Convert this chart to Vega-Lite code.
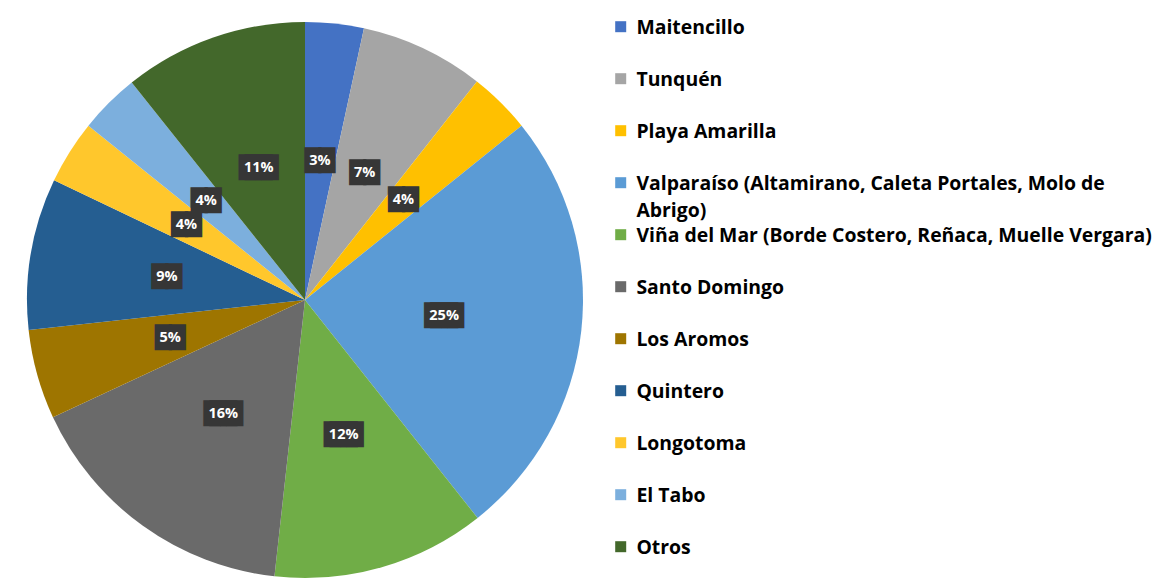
{
  "$schema": "https://vega.github.io/schema/vega-lite/v6.json",
  "autosize": "none",
  "width": 556,
  "height": 556,
  "padding": {"left": 27, "top": 22, "right": 581, "bottom": 4},
  "background": "white",
  "config": {"view": {"stroke": null}},
  "data": {
    "values": [
      {"order": 1, "lugar": "Maitencillo", "valor": 3.4, "label": "3%"},
      {"order": 2, "lugar": "Tunquén", "valor": 7.2, "label": "7%"},
      {"order": 3, "lugar": "Playa Amarilla", "valor": 3.6, "label": "4%"},
      {"order": 4, "lugar": "Valparaíso (Altamirano, Caleta Portales, Molo de Abrigo)", "valor": 25.1, "label": "25%"},
      {"order": 5, "lugar": "Viña del Mar (Borde Costero, Reñaca, Muelle Vergara)", "valor": 12.4, "label": "12%"},
      {"order": 6, "lugar": "Santo Domingo", "valor": 16.3, "label": "16%"},
      {"order": 7, "lugar": "Los Aromos", "valor": 5.2, "label": "5%"},
      {"order": 8, "lugar": "Quintero", "valor": 8.8, "label": "9%"},
      {"order": 9, "lugar": "Longotoma", "valor": 3.7, "label": "4%"},
      {"order": 10, "lugar": "El Tabo", "valor": 3.5, "label": "4%"},
      {"order": 11, "lugar": "Otros", "valor": 10.7, "label": "11%"}
    ]
  },
  "encoding": {
    "theta": {"field": "valor", "type": "quantitative", "stack": true},
    "order": {"field": "order", "type": "quantitative"}
  },
  "layer": [
    {
      "mark": {"type": "arc", "outerRadius": 278},
      "encoding": {
        "color": {
          "field": "lugar",
          "type": "nominal",
          "scale": {
            "domain": ["Maitencillo", "Tunquén", "Playa Amarilla", "Valparaíso (Altamirano, Caleta Portales, Molo de Abrigo)", "Viña del Mar (Borde Costero, Reñaca, Muelle Vergara)", "Santo Domingo", "Los Aromos", "Quintero", "Longotoma", "El Tabo", "Otros"],
            "range": ["#4472C4", "#A5A5A5", "#FFC000", "#5B9BD5", "#70AD47", "#6A6A6A", "#9E7500", "#255E91", "#FFC72C", "#7CAFDD", "#43682B"]
          },
          "legend": {
            "orient": "none",
            "legendX": 584,
            "legendY": -5,
            "title": null,
            "padding": 0,
            "symbolType": "square",
            "symbolSize": 121,
            "symbolStrokeWidth": 0,
            "labelFont": "Open Sans",
            "labelFontWeight": "bold",
            "labelFontSize": 19.4,
            "labelColor": "#000000",
            "labelLimit": 600,
            "labelOffset": 6,
            "labelBaseline": "alphabetic",
            "rowPadding": 4,
            "labelExpr": "indexof(datum.label, 'Valparaíso') == 0 ? ['Valparaíso (Altamirano, Caleta Portales, Molo de', 'Abrigo)'] : [datum.label, '']",
            "encode": {"labels": {"update": {"dy": {"value": 7}, "lineHeight": {"value": 27}}}}
          }
        }
      }
    },
    {
      "mark": {"type": "text", "radius": 140, "font": "DejaVu Sans", "fontSize": 22, "color": "#363636", "baseline": "middle", "align": "center", "dx": -3},
      "encoding": {"text": {"condition": {"test": "length(datum.label) == 3", "value": "██"}, "value": ""}}
    },
    {
      "mark": {"type": "text", "radius": 140, "font": "DejaVu Sans", "fontSize": 22, "color": "#363636", "baseline": "middle", "align": "center", "dx": 3},
      "encoding": {"text": {"condition": {"test": "length(datum.label) == 3", "value": "██"}, "value": ""}}
    },
    {
      "mark": {"type": "text", "radius": 140, "font": "DejaVu Sans", "fontSize": 22, "color": "#363636", "baseline": "middle", "align": "center", "dx": -7},
      "encoding": {"text": {"condition": {"test": "length(datum.label) == 2", "value": "█"}, "value": ""}}
    },
    {
      "mark": {"type": "text", "radius": 140, "font": "DejaVu Sans", "fontSize": 22, "color": "#363636", "baseline": "middle", "align": "center", "dx": 7},
      "encoding": {"text": {"condition": {"test": "length(datum.label) == 2", "value": "█"}, "value": ""}}
    },
    {
      "mark": {"type": "text", "radius": 140, "font": "Open Sans", "fontSize": 14.5, "fontWeight": "bold", "color": "#ffffff", "baseline": "middle", "align": "center"},
      "encoding": {
        "text": {"field": "label", "type": "nominal"}
      }
    }
  ]
}
